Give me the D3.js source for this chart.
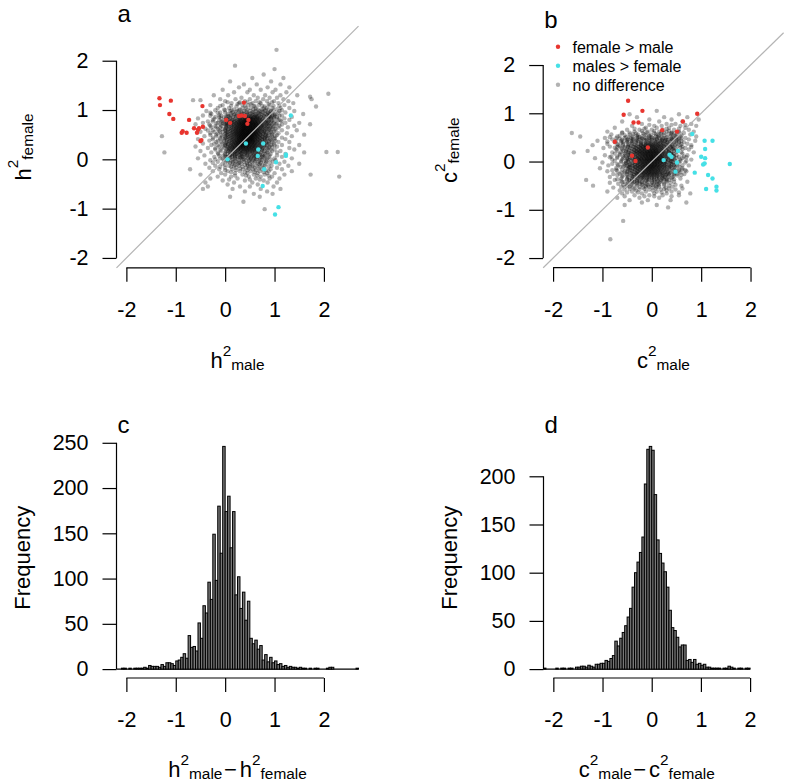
<!DOCTYPE html>
<html><head><meta charset="utf-8">
<script src="https://cdn.jsdelivr.net/npm/d3@7"></script>
<style>
html,body{margin:0;padding:0;background:#fff;}
svg{display:block;font-family:"Liberation Sans",Arial,Helvetica,sans-serif;}
</style></head><body>
<svg id="chart" width="787" height="784"></svg>
<script>
// ---------------- DATA ----------------
const axisTicks = [-2, -1, 0, 1, 2];
const histCTicksY = [0, 50, 100, 150, 200, 250];
const histDTicksY = [0, 50, 100, 150, 200];
const binStart = -2.2, binWidth = 0.05;
// panel c: counts of h2male - h2female, bins of 0.05 starting at -2.2
const histC = [0,0,1,1,0,1,0,1,1,1,1,2,1,4,3,3,3,2,5,3,7,7,6,4,9,10,13,17,12,37,24,25,20,51,34,70,62,96,77,149,98,180,128,246,174,191,134,174,82,102,67,85,54,75,34,28,32,22,26,10,16,8,13,7,9,5,6,3,4,2,3,2,2,1,2,1,1,0,1,0,1,1,0,0,0,1,2,2,0,0,0,0,0,0,0,0,0,1];
// panel d: counts of c2male - c2female, bins of 0.05 starting at -2.2
const histD = [1,0,0,0,0,1,0,1,1,0,1,1,0,2,2,3,3,2,4,3,2,5,5,6,6,9,8,11,14,29,24,32,38,45,54,63,85,100,111,121,137,192,228,231,227,181,134,120,110,101,85,61,43,40,33,23,25,25,9,10,7,10,5,6,4,5,2,2,1,1,1,1,0,1,1,3,2,1,0,1,1,0,1,1];

const redA = [[-1.33,1.24],[-1.32,1.10],[-1.10,1.19],[-1.13,0.92],[-1.05,0.82],[-0.73,0.80],[-0.46,1.08],[-0.86,0.57],[-0.88,0.54],[-0.78,0.54],[-0.63,0.63],[-0.55,0.60],[-0.57,0.54],[-0.53,0.63],[-0.45,0.66],[-0.48,0.39],[-0.50,0.37],[0.02,0.80],[0.10,0.74],[0.38,1.15],[0.33,0.89],[0.40,0.88],[0.47,0.80],[0.45,0.72],[0.28,0.88]];
const cyanA = [[1.33,0.89],[0.42,0.32],[0.67,0.20],[0.77,0.32],[0.66,0.07],[0.05,0.00],[1.23,0.07],[1.23,0.10],[1.03,-0.06],[0.79,-0.20],[0.76,-0.54],[1.08,-0.97],[1.01,-1.12]];
// grey points of panel a, as rows: [y, [x values]]
const grayRowsA = [
[2.22,[1.04]],[1.90,[0.20]],[1.83,[1.00]],[1.72,[0.78]],[1.65,[0.55,1.18]],[1.58,[0.10,0.93]],
[1.52,[0.38,0.64,1.12]],[1.46,[0.28,0.86,1.30]],[1.41,[-0.05,0.50,0.72,1.02]],[1.36,[0.18,0.45,0.96,1.24]],
[1.33,[2.09]],[1.30,[-0.23,0.06,0.58,0.81,1.12,1.46]],[1.27,[1.72]],[1.25,[0.33,0.66,0.90,1.05]],
[1.22,[-0.10,0.21,0.50,0.77,1.18,1.75]],[1.20,[-0.65,-0.50]],[1.18,[0.00,0.40,0.62,0.85,0.99,1.28]],
[1.16,[0.05,0.30,0.45,0.70,0.95]],
[1.14,[0.13,0.28,0.55,0.72,1.08,1.38]],[1.12,[0.25,0.52,0.88]],[1.10,[-0.30,-0.05,0.35,0.47,0.68,0.90,1.20]],
[1.085,[-0.10,0.12,0.40,0.58,0.75,0.98,1.10]],[1.07,[0.23,0.60,0.80,1.84]],
[1.04,[-0.15,0.08,0.42,0.52,0.84,0.96,1.12,1.30]],[1.03,[0.35,0.62,0.78]],[1.01,[-0.02,0.18,0.30,0.45,0.57,0.66,0.74,0.88,1.04]],
[0.995,[-0.20,0.00,0.13,0.28,0.82,0.98,1.15]],
[0.98,[-0.38,0.10,0.25,0.38,0.50,0.62,0.70,0.80,0.93,1.10,1.40]],[0.965,[0.22,0.42,0.58,0.74,0.92]],[0.95,[-0.10,0.15,0.33,0.44,0.55,0.67,0.77,0.86,1.22]],
[0.945,[-0.30,-0.15,0.00,0.95,1.08]],
[0.935,[0.12,0.34,0.51,0.68,0.87]],
[0.92,[-0.28,0.05,0.20,0.30,0.37,0.47,0.55,0.63,0.71,0.82,0.90,1.02,1.58]],
[0.905,[0.18,0.28,0.44,0.60,0.75,0.85,1.00]],
[0.89,[-0.45,-0.12,0.12,0.24,0.33,0.40,0.48,0.56,0.62,0.69,0.78,0.95,1.15]],
[0.885,[-0.30,-0.08,0.05,0.90,1.00,1.10]],
[0.875,[0.07,0.22,0.38,0.52,0.64,0.79,0.90]],
[0.86,[-0.20,0.02,0.16,0.27,0.35,0.42,0.49,0.55,0.60,0.66,0.73,0.83,0.92,1.05,1.35]],
[0.855,[-0.12,-0.02,0.10,0.88,0.98]],
[0.845,[0.30,0.40,0.46,0.52,0.58,0.64,0.70]],
[0.83,[-0.55,-0.08,0.10,0.21,0.30,0.37,0.44,0.50,0.56,0.63,0.70,0.77,0.87,0.98,1.20]],
[0.825,[-0.22,0.02,0.93,1.05]],
[0.815,[0.18,0.28,0.35,0.41,0.46,0.51,0.56,0.61,0.67,0.75]],
[0.80,[-0.25,0.05,0.15,0.25,0.32,0.38,0.43,0.48,0.53,0.58,0.64,0.71,0.80,0.89,1.08,1.30]],
[0.795,[-0.12,0.00,0.08,0.85,0.95,1.12]],
[0.785,[0.14,0.23,0.30,0.36,0.41,0.46,0.51,0.57,0.63,0.69,0.78]],
[0.77,[-0.35,-0.05,0.11,0.19,0.27,0.33,0.39,0.44,0.49,0.54,0.60,0.66,0.73,0.82,0.93,1.14]],
[0.765,[-0.25,-0.08,0.03,0.88,1.00]],
[0.755,[0.08,0.18,0.25,0.31,0.37,0.41,0.45,0.50,0.55,0.60,0.65,0.72,0.81]],
[0.74,[-0.45,-0.15,0.04,0.14,0.22,0.29,0.34,0.39,0.43,0.47,0.52,0.57,0.62,0.68,0.76,0.86,0.98,1.22,1.50]],
[0.735,[-0.18,-0.05,0.92,1.05]],
[0.725,[0.03,0.12,0.21,0.28,0.33,0.38,0.43,0.48,0.52,0.57,0.62,0.67,0.74,0.84]],
[0.71,[-0.60,-0.02,0.08,0.17,0.25,0.31,0.36,0.40,0.45,0.50,0.55,0.59,0.64,0.70,0.78,0.88,1.03,1.72]],
[0.705,[-0.32,-0.10,0.00,0.84,0.95,1.15]],
[0.695,[0.05,0.15,0.23,0.29,0.35,0.39,0.44,0.49,0.53,0.58,0.63,0.69,0.76]],
[0.68,[-0.30,-0.08,0.12,0.20,0.27,0.33,0.37,0.42,0.46,0.51,0.56,0.61,0.66,0.73,0.81,0.92,1.10,1.40]],
[0.675,[-0.20,0.02,0.88,1.00]],
[0.665,[0.08,0.18,0.25,0.31,0.36,0.41,0.45,0.50,0.55,0.60,0.65,0.71,0.79]],
[0.65,[-0.18,0.03,0.15,0.23,0.29,0.34,0.39,0.43,0.48,0.52,0.57,0.62,0.67,0.75,0.85,0.97,1.27]],
[0.645,[-0.28,-0.10,0.92,1.08]],
[0.635,[0.02,0.12,0.21,0.27,0.33,0.38,0.42,0.47,0.51,0.56,0.61,0.66,0.73,0.82]],
[0.62,[-0.40,-0.05,0.09,0.18,0.25,0.31,0.36,0.40,0.44,0.49,0.53,0.58,0.63,0.69,0.77,0.88,1.02]],
[0.615,[-0.15,0.00,0.85,0.95]],
[0.605,[0.06,0.15,0.22,0.29,0.34,0.38,0.43,0.47,0.52,0.56,0.61,0.67,0.75]],
[0.59,[-0.25,0.00,0.13,0.21,0.27,0.32,0.37,0.41,0.46,0.50,0.55,0.59,0.65,0.71,0.80,0.92,1.15,1.45]],
[0.585,[-0.35,-0.12,0.88,1.02]],
[0.575,[0.02,0.10,0.19,0.25,0.31,0.36,0.40,0.45,0.49,0.54,0.58,0.63,0.70,0.79]],
[0.56,[-0.50,-0.10,0.06,0.16,0.23,0.29,0.34,0.38,0.43,0.47,0.51,0.56,0.61,0.67,0.74,0.84,0.99]],
[0.555,[-0.22,-0.05,0.80,0.92]],
[0.545,[0.04,0.14,0.22,0.28,0.33,0.37,0.42,0.46,0.50,0.55,0.60,0.65,0.72]],
[0.53,[-0.30,0.01,0.12,0.20,0.26,0.31,0.35,0.40,0.44,0.48,0.53,0.57,0.62,0.68,0.77,0.89,1.08,1.25]],
[0.525,[-0.15,0.83,0.96]],
[0.515,[0.00,0.09,0.18,0.24,0.30,0.35,0.39,0.43,0.48,0.52,0.57,0.62,0.68,0.76]],
[0.50,[-0.18,0.05,0.15,0.22,0.28,0.33,0.37,0.41,0.45,0.50,0.54,0.59,0.64,0.71,0.81,0.95,1.60]],
[0.495,[-0.30,-0.08,0.88,1.05]],
[0.485,[0.03,0.12,0.20,0.27,0.32,0.36,0.41,0.45,0.49,0.54,0.59,0.65,0.72,0.82]],
[0.47,[-1.28,-0.42,-0.06,0.09,0.18,0.25,0.30,0.34,0.39,0.43,0.47,0.52,0.56,0.61,0.67,0.75,0.86,1.02,1.35]],
[0.465,[-0.18,0.00,0.82,0.95]],
[0.455,[0.06,0.15,0.23,0.28,0.33,0.38,0.42,0.47,0.51,0.55,0.61,0.67,0.75]],
[0.44,[-0.25,0.02,0.13,0.21,0.27,0.32,0.36,0.40,0.45,0.49,0.53,0.58,0.63,0.70,0.79,0.92,1.15]],
[0.435,[-0.10,0.86,1.00]],
[0.425,[0.00,0.10,0.18,0.25,0.30,0.35,0.39,0.43,0.48,0.53,0.57,0.64,0.71,0.80]],
[0.41,[-0.55,-0.10,0.07,0.16,0.23,0.29,0.34,0.38,0.42,0.46,0.51,0.55,0.60,0.66,0.74,0.85,1.00,1.22]],
[0.405,[-0.25,-0.02,0.80,0.92]],
[0.395,[0.04,0.14,0.22,0.28,0.32,0.37,0.41,0.46,0.50,0.55,0.60,0.67,0.75]],
[0.38,[-0.32,-0.02,0.11,0.19,0.25,0.30,0.35,0.39,0.44,0.48,0.52,0.57,0.63,0.70,0.80,0.94]],
[0.375,[-0.15,0.88,1.02]],
[0.365,[0.08,0.17,0.24,0.29,0.34,0.38,0.43,0.47,0.52,0.57,0.63,0.71]],
[0.35,[-0.18,0.04,0.14,0.21,0.27,0.32,0.36,0.41,0.45,0.50,0.55,0.60,0.67,0.76,0.88,1.08,1.30]],
[0.345,[-0.08,0.82,0.95]],
[0.335,[0.02,0.12,0.20,0.26,0.31,0.35,0.40,0.44,0.49,0.55,0.61,0.69,0.79]],
[0.32,[-0.45,-0.06,0.08,0.17,0.23,0.28,0.33,0.38,0.42,0.47,0.52,0.58,0.65,0.73,0.84,0.99]],
[0.315,[-0.22,0.00,0.88]],
[0.305,[0.06,0.15,0.22,0.27,0.32,0.37,0.42,0.47,0.53,0.59,0.66,0.75]],
[0.29,[-0.28,0.00,0.12,0.19,0.25,0.30,0.35,0.40,0.45,0.50,0.56,0.62,0.70,0.80,0.93,1.15,1.50]],
[0.285,[-0.15,0.85,1.00]],
[0.275,[0.01,0.10,0.17,0.24,0.30,0.35,0.39,0.44,0.50,0.57,0.64,0.73]],
[0.26,[-0.60,-0.12,0.05,0.14,0.21,0.27,0.32,0.37,0.42,0.48,0.54,0.60,0.68,0.78,0.90,1.05]],
[0.255,[-0.05,0.80,0.95]],
[0.245,[0.05,0.13,0.20,0.26,0.31,0.36,0.43,0.49,0.55,0.62,0.71]],
[0.23,[-0.35,-0.02,0.09,0.17,0.23,0.29,0.34,0.40,0.46,0.52,0.58,0.66,0.76,0.88,1.30]],
[0.225,[-0.20,0.84]],
[0.215,[0.07,0.15,0.21,0.27,0.36,0.42,0.48,0.55,0.62,0.70]],
[0.20,[-0.20,0.03,0.12,0.19,0.26,0.32,0.38,0.44,0.50,0.57,0.65,0.74,0.86,1.00,1.40]],
[0.195,[-0.10,0.75,0.92]],
[0.185,[0.09,0.17,0.25,0.33,0.40,0.47,0.54,0.62]],
[0.17,[-0.50,-0.08,0.06,0.15,0.22,0.29,0.36,0.43,0.50,0.58,0.68,0.80,0.95,1.12]],
[0.165,[0.02,0.63,0.78]],
[0.155,[0.11,0.20,0.30,0.39,0.46,0.55]],
[0.15,[2.05,2.28]],
[0.14,[-1.23,-0.28,0.00,0.10,0.18,0.26,0.34,0.42,0.50,0.60,0.72,0.86,1.05,1.60]],
[0.135,[-0.15,0.55,0.68,0.85]],
[0.125,[0.15,0.24,0.33,0.45]],
[0.11,[-0.14,0.05,0.14,0.23,0.32,0.41,0.52,0.63,0.76,0.92,1.22]],
[0.105,[0.00,0.20,0.36,0.66,0.82]],
[0.095,[0.10,0.28,0.45,0.58,0.70]],
[0.08,[-0.42,-0.04,0.09,0.19,0.29,0.39,0.50,0.62,0.75,0.90,1.05]],
[0.075,[-0.12,0.13,0.44,0.58,0.80]],
[0.065,[0.00,0.20,0.34,0.55,0.68]],
[0.05,[-0.22,0.02,0.14,0.25,0.36,0.48,0.60,0.73,0.88,1.15]],
[0.045,[0.04,0.20,0.32,0.65,0.77]],
[0.035,[0.10,0.30,0.41,0.52,0.80]],
[0.02,[-0.55,-0.10,0.07,0.20,0.33,0.46,0.58,0.71,0.85,1.00,1.35]],
[0.015,[-0.05,0.25,0.52,0.62]],
[0.00,[-0.20,0.16,0.38,0.64,0.92]],
[-0.015,[0.06,0.35,0.50,0.74]],
[-0.02,[-0.30,-0.02,0.13,0.28,0.42,0.56,0.70,0.84,1.02]],
[-0.035,[0.02,0.20,0.48,0.60,0.78]],
[-0.05,[-0.15,0.06,0.22,0.38,0.53,0.68,0.83,0.97,1.20]],
[-0.06,[0.15,0.30,0.60]],
[-0.07,[-0.25,0.10,0.28,0.44,0.72,0.90]],
[-0.09,[-0.40,-0.05,0.15,0.33,0.50,0.66,0.82,1.10,1.50]],
[-0.10,[0.25,0.45,0.70]],
[-0.11,[0.00,0.20,0.40,0.55,0.75]],
[-0.13,[-0.20,0.08,0.28,0.46,0.63,0.80,0.94,1.28]],
[-0.14,[0.18,0.55]],
[-0.15,[-0.10,0.12,0.35,0.50,0.70,0.88]],
[-0.17,[-0.32,0.00,0.22,0.42,0.60,0.78,1.05]],
[-0.185,[0.30,0.48,0.68]],
[-0.20,[-0.71,-0.12,0.14,0.36,0.56,0.75,0.92,1.15]],
[-0.22,[0.00,0.22,0.45,0.62,0.82]],
[-0.24,[-0.25,0.05,0.30,0.52,0.70,0.88,1.35]],
[-0.26,[0.12,0.40,0.60,0.78]],
[-0.28,[-0.08,0.20,0.45,0.66,0.85,1.00]],
[-0.31,[-0.50,0.00,0.35,0.58,0.80,1.20,1.73]],
[-0.33,[0.20,0.42,0.65,0.88]],
[-0.35,[-0.15,0.12,0.48,0.72,0.95,2.31]],
[-0.39,[-0.30,0.25,0.62,0.90,1.10]],
[-0.41,[0.08,0.50,0.70]],
[-0.43,[-0.05,0.40,0.78]],
[-0.47,[-0.40,0.18,0.55,0.86,1.05]],
[-0.51,[0.05,0.66]],
[-0.55,[-0.35,0.30,0.50,0.98]],
[-0.60,[-0.45,0.15,0.72,1.12]],
[-0.65,[0.40,0.85]],
[-0.70,[0.58,0.96]],
[-0.76,[0.10,0.70]],
[-0.86,[0.37]],
[-1.01,[0.80]]
];

const redB = [[-0.48,1.26],[-0.57,0.97],[-0.19,1.05],[-0.37,0.81],[-0.27,0.81],[-0.75,0.41],[0.21,0.65],[0.51,0.62],[0.63,0.83],[0.92,0.99],[-0.08,0.29],[-0.40,0.12],[-0.33,0.01]];
const cyanB = [[0.82,0.57],[1.07,0.43],[1.23,0.43],[1.08,0.26],[1.00,0.10],[1.08,0.07],[1.04,-0.06],[1.07,-0.04],[1.58,-0.05],[0.87,-0.23],[1.14,-0.28],[1.23,-0.35],[1.10,-0.57],[1.31,-0.52],[1.31,-0.60],[0.36,0.14],[0.40,0.10],[0.53,0.22],[0.24,0.03],[0.51,-0.02],[0.48,-0.21]];
// grey points of panel b, as rows: [y, [x values]]
const grayRowsB = [
[1.05,[0.10]],[0.98,[-0.45,0.55]],[0.92,[-0.30,0.25,0.72]],[0.87,[-0.05,0.40,0.95]],[0.83,[-0.60,0.15,0.62]],
[0.78,[-0.20,0.30,0.48,0.80]],[0.76,[-0.05,0.40,0.68]],[0.74,[-0.40,0.05,0.20,0.58,0.90]],[0.70,[-0.75,-0.12,0.10,0.35,0.68]],
[0.68,[-0.35,-0.15,0.30,0.55]],
[0.66,[-0.50,-0.25,0.00,0.22,0.45,0.75]],[0.635,[-0.20,0.05,0.35]],[0.62,[-0.90,-0.35,-0.08,0.15,0.30,0.55,0.85]],
[0.605,[-0.60,-0.10,0.20]],[0.60,[-0.45,0.40,0.55]],
[0.59,[-1.62,-0.60,-0.18,0.05,0.25,0.40,0.65]],[0.58,[-0.32,0.18,0.46]],[0.565,[-0.38,-0.15,0.08,0.40]],
[0.56,[-0.82,-0.45,-0.28,-0.02,0.12,0.33,0.50,0.78]],
[0.545,[-0.55,-0.12,0.25,0.60]],[0.535,[-0.65,-0.30,-0.05,0.15,0.48]],
[0.52,[-1.45,-0.70,-0.38,-0.20,-0.05,0.08,0.20,0.38,0.58,0.90]],[0.51,[-0.52,-0.25,0.12,0.42]],[0.505,[-0.85,-0.45,-0.28,0.00,0.30,0.50]],
[0.49,[-0.95,-0.55,-0.30,-0.12,0.02,0.15,0.28,0.45,0.68]],[0.485,[-0.72,-0.42,-0.20,-0.05,0.22,0.55]],[0.475,[-0.65,-0.38,-0.18,0.10,0.40,0.60]],
[0.46,[-0.80,-0.48,-0.25,-0.10,0.00,0.10,0.22,0.35,0.52,0.75]],[0.455,[-0.60,-0.38,-0.15,0.05,0.28,0.42]],[0.445,[-0.50,-0.30,-0.05,0.20,0.32,0.50]],
[0.43,[-1.10,-0.62,-0.40,-0.22,-0.12,-0.03,0.06,0.16,0.27,0.40,0.60,0.88]],[0.425,[-0.72,-0.50,-0.32,0.20,0.48]],[0.415,[-0.90,-0.58,-0.42,-0.28,0.12,0.26,0.38,0.55]],
[0.40,[-0.75,-0.50,-0.32,-0.20,-0.10,-0.01,0.08,0.18,0.30,0.45,0.65]],[0.395,[-0.62,-0.40,0.32,0.55]],
[0.385,[-0.22,-0.12,-0.04,0.04,0.12,0.22]],
[0.37,[-0.90,-0.58,-0.40,-0.27,-0.17,-0.08,0.00,0.08,0.16,0.25,0.36,0.50,0.72]],[0.365,[-0.70,-0.48,0.42,0.60]],
[0.355,[-0.35,-0.22,-0.12,-0.04,0.04,0.13,0.22,0.32]],[0.345,[-0.58,0.48]],
[0.34,[-1.20,-0.68,-0.47,-0.33,-0.22,-0.13,-0.05,0.03,0.11,0.19,0.29,0.41,0.58,0.80]],
[0.325,[-0.42,-0.30,-0.21,-0.14,-0.07,0.00,0.07,0.15,0.24,0.36]],[0.315,[-0.65,-0.48,0.52]],
[0.31,[-0.85,-0.55,-0.38,-0.27,-0.18,-0.10,-0.03,0.04,0.12,0.20,0.30,0.43,0.62]],
[0.30,[-0.70,0.80]],
[0.295,[-0.48,-0.35,-0.25,-0.18,-0.12,-0.05,0.02,0.09,0.17,0.26,0.38]],[0.285,[-0.75,-0.55,0.38,0.58]],
[0.28,[-0.98,-0.62,-0.44,-0.32,-0.23,-0.15,-0.08,-0.01,0.06,0.13,0.21,0.31,0.45,0.68]],
[0.265,[-0.40,-0.31,-0.23,-0.16,-0.09,-0.02,0.05,0.11,0.19,0.28,0.42]],[0.255,[-0.60,0.42,0.62]],
[0.25,[-0.72,-0.50,-0.36,-0.27,-0.19,-0.12,-0.05,0.02,0.08,0.15,0.23,0.34,0.49,0.75]],
[0.235,[-0.46,-0.35,-0.27,-0.20,-0.13,-0.06,0.00,0.06,0.12,0.20,0.30]],[0.225,[-0.70,-0.52,0.45]],
[0.22,[-1.30,-0.58,-0.42,-0.31,-0.23,-0.16,-0.09,-0.03,0.03,0.09,0.16,0.24,0.35,0.52]],
[0.205,[-0.52,-0.39,-0.31,-0.24,-0.17,-0.10,-0.04,0.02,0.08,0.14,0.23,0.34]],[0.195,[-0.62,0.34,0.50]],
[0.19,[-1.58,-0.80,-0.48,-0.35,-0.27,-0.20,-0.13,-0.07,-0.01,0.05,0.11,0.18,0.27,0.40,0.60,0.85]],
[0.175,[-0.45,-0.35,-0.27,-0.20,-0.13,-0.07,-0.01,0.05,0.11,0.18,0.26,0.38]],[0.165,[-0.75,-0.55,0.38,0.62]],
[0.16,[-0.65,-0.42,-0.31,-0.23,-0.16,-0.10,-0.04,0.02,0.08,0.14,0.21,0.30,0.44]],
[0.145,[-0.48,-0.34,-0.25,-0.18,-0.12,-0.06,0.00,0.06,0.12,0.19,0.27,0.40]],[0.135,[-0.65,-0.46,0.42]],
[0.13,[-0.95,-0.55,-0.38,-0.28,-0.20,-0.14,-0.08,-0.02,0.03,0.09,0.15,0.22,0.32,0.50,0.72]],
[0.115,[-0.52,-0.39,-0.29,-0.21,-0.14,-0.08,-0.02,0.03,0.09,0.15,0.22,0.31,0.45]],[0.105,[-0.82,-0.58,0.45,0.65]],
[0.10,[-0.70,-0.45,-0.33,-0.25,-0.18,-0.11,-0.05,0.00,0.06,0.12,0.18,0.26,0.36,0.55]],
[0.09,[-0.85,0.70]],
[0.085,[-0.44,-0.34,-0.26,-0.19,-0.12,-0.06,0.00,0.05,0.11,0.17,0.24,0.34]],[0.075,[-0.70,-0.50,0.50]],
[0.07,[-1.15,-0.58,-0.40,-0.30,-0.22,-0.15,-0.09,-0.03,0.02,0.08,0.14,0.20,0.28,0.40,0.62]],
[0.055,[-0.50,-0.38,-0.29,-0.22,-0.15,-0.09,-0.03,0.03,0.08,0.14,0.21,0.30,0.42]],[0.045,[-0.60,0.40,0.58]],
[0.04,[-0.80,-0.48,-0.35,-0.26,-0.19,-0.12,-0.06,0.00,0.05,0.11,0.17,0.24,0.33,0.46,0.80]],
[0.025,[-0.45,-0.35,-0.27,-0.20,-0.13,-0.07,-0.01,0.04,0.10,0.16,0.23,0.33]],[0.015,[-0.75,-0.52,0.47,0.70]],
[0.01,[-0.62,-0.42,-0.31,-0.23,-0.16,-0.10,-0.04,0.01,0.07,0.13,0.19,0.27,0.38,0.58]],
[-0.005,[-0.48,-0.34,-0.25,-0.18,-0.11,-0.05,0.01,0.07,0.13,0.20,0.28,0.40]],[-0.015,[-0.62,0.38,0.55]],
[-0.02,[-1.00,-0.52,-0.37,-0.28,-0.20,-0.14,-0.08,-0.02,0.04,0.10,0.16,0.23,0.31,0.44,0.68]],
[-0.035,[-0.52,-0.40,-0.30,-0.22,-0.15,-0.08,-0.02,0.04,0.10,0.17,0.25,0.36]],[-0.045,[-0.80,-0.55,0.50]],
[-0.05,[-0.70,-0.45,-0.33,-0.24,-0.17,-0.11,-0.05,0.01,0.07,0.13,0.20,0.28,0.40]],
[-0.065,[-0.44,-0.35,-0.27,-0.19,-0.12,-0.05,0.01,0.07,0.13,0.21,0.30,0.45]],[-0.075,[-0.68,-0.48,0.44,0.62]],
[-0.08,[-0.88,-0.56,-0.40,-0.29,-0.21,-0.14,-0.08,-0.02,0.04,0.10,0.17,0.25,0.35,0.52,0.75]],
[-0.095,[-0.50,-0.38,-0.29,-0.21,-0.14,-0.08,-0.02,0.04,0.11,0.18,0.27,0.38]],[-0.105,[-0.58,0.38,0.56]],
[-0.11,[-0.64,-0.46,-0.34,-0.25,-0.18,-0.11,-0.05,0.01,0.07,0.14,0.22,0.31,0.46]],
[-0.125,[-0.43,-0.33,-0.25,-0.17,-0.10,-0.04,0.02,0.08,0.15,0.24,0.35]],[-0.135,[-0.72,-0.45,0.48]],
[-0.14,[-1.05,-0.52,-0.38,-0.29,-0.21,-0.14,-0.08,-0.02,0.04,0.11,0.18,0.27,0.40,0.62]],
[-0.155,[-0.48,-0.35,-0.27,-0.19,-0.12,-0.06,0.00,0.06,0.13,0.21,0.31]],[-0.165,[-0.60,0.45,0.62]],
[-0.17,[-0.72,-0.44,-0.33,-0.24,-0.17,-0.10,-0.04,0.02,0.09,0.16,0.25,0.36,0.55]],
[-0.18,[-0.80,0.68]],
[-0.185,[-0.40,-0.30,-0.22,-0.15,-0.08,-0.02,0.05,0.12,0.19,0.29,0.42]],[-0.195,[-0.70,-0.48,0.55]],
[-0.20,[-0.90,-0.55,-0.40,-0.29,-0.20,-0.13,-0.06,0.00,0.07,0.14,0.23,0.33,0.48,0.70]],
[-0.215,[-0.50,-0.37,-0.27,-0.19,-0.12,-0.05,0.02,0.09,0.17,0.27]],[-0.225,[-0.55,0.38,0.58]],
[-0.23,[-0.62,-0.45,-0.33,-0.24,-0.16,-0.09,-0.02,0.05,0.12,0.21,0.32,0.46]],
[-0.245,[-0.42,-0.31,-0.22,-0.14,-0.07,0.00,0.07,0.15,0.24,0.37]],[-0.255,[-0.65,-0.30,0.35,0.52]],
[-0.26,[-0.78,-0.50,-0.37,-0.27,-0.18,-0.10,-0.03,0.04,0.11,0.20,0.30,0.45,0.66]],
[-0.275,[-0.35,-0.25,-0.16,-0.08,0.00,0.08,0.17,0.28]],
[-0.28,[-0.70,0.60]],[-0.285,[-0.50,0.28,0.45]],
[-0.29,[-0.58,-0.42,-0.30,-0.20,-0.12,-0.04,0.04,0.12,0.22,0.35,0.52]],
[-0.305,[-0.40,-0.27,-0.17,-0.08,0.01,0.10,0.20]],[-0.315,[-0.60,-0.38,0.33]],
[-0.32,[-0.85,-0.48,-0.34,-0.23,-0.14,-0.05,0.04,0.14,0.26,0.42]],
[-0.335,[-0.30,-0.19,-0.10,0.00,0.10,0.22]],[-0.345,[-0.50,-0.22,0.22,0.40]],
[-0.35,[-0.62,-0.40,-0.27,-0.16,-0.06,0.04,0.15,0.30,0.58]],
[-0.365,[-0.70,-0.50,-0.35,0.10,0.25,0.45]],[-0.375,[-0.40,-0.10,0.00,0.30]],
[-0.38,[-1.33,-0.75,-0.46,-0.30,-0.18,-0.07,0.05,0.18,0.36]],
[-0.40,[-0.62,-0.40,-0.25,-0.12,0.12,0.30]],[-0.41,[-0.45,-0.30,0.00,0.18]],
[-0.42,[-0.55,-0.35,-0.20,-0.08,0.06,0.22,0.45,0.72]],[-0.43,[-0.60,-0.38,-0.25,0.10,0.30]],
[-0.44,[-0.85,-0.48,-0.30,-0.15,0.00,0.15,0.38]],
[-0.46,[-0.68,-0.40,-0.24,-0.10,0.05,0.25]],[-0.47,[-0.50,-0.32,-0.18,0.12]],
[-0.48,[-0.58,-0.20,-0.02,0.15,0.48]],[-0.49,[-0.42,-0.08,0.02,0.25]],
[-0.50,[-1.19,-0.50,-0.30,-0.12,0.08,0.35,0.60]],
[-0.52,[-0.62,-0.45,-0.05,0.15,0.42]],[-0.53,[-0.55,-0.25,-0.12,0.10]],
[-0.54,[-0.78,-0.38,-0.18,0.02,0.28]],
[-0.56,[-0.35,0.08,0.35,0.62]],[-0.57,[-0.45,-0.15,0.25]],
[-0.58,[-0.55,-0.25,-0.05,0.18,0.48]],[-0.60,[-0.65,-0.32,0.02,0.30]],
[-0.62,[-0.90,-0.40,-0.12,0.10,0.40]],
[-0.64,[-0.50,-0.28,0.20,0.55]],
[-0.66,[-0.60,-0.20,0.05,0.30,0.78]],
[-0.70,[-0.35,-0.05,0.22,0.55]],
[-0.72,[-0.55,-0.15,0.05,0.40]],
[-0.75,[-0.70,-0.25,0.15]],
[-0.80,[-0.45,-0.08,0.38]],
[-0.85,[-0.20,0.70]],
[-0.90,[-0.55,0.10]],
[-0.95,[0.33]],
[-1.23,[-0.58]],
[-1.61,[-0.84]]
];
const legendLabels = ["female > male", "males > female", "no difference"];
const panelLetters = ["a", "b", "c", "d"];

// ---------------- DRAWING ----------------
const svg = d3.select("#chart");
const TICKF = 21.5, LBLF = 22, LETF = 24;
const RED = "#e8352f", CYAN = "#45e0e6", GREY = "#000", GREY_OP = 0.3, PR = 2.2;

function mathText(sel, parts, size) {
  let cur = 0;
  parts.forEach(([t, type, dx]) => {
    const target = type === 1 ? -0.55 * size : type === 2 ? 0.1 * size : 0;
    const ts = sel.append("tspan").text(t)
      .attr("dy", (target - cur).toFixed(2))
      .attr("font-size", type ? 0.7 * size : size);
    if (dx) ts.attr("dx", dx);
    cur = target;
  });
}

function styleAxis(g) {
  g.selectAll(".tick line").attr("stroke", "#000").attr("stroke-width", 1.2);
  g.selectAll(".tick text").attr("fill", "#000").attr("font-size", TICKF)
    .attr("font-family", '"Liberation Sans", Arial, sans-serif');
  g.select(".domain").remove();
}

function drawAxes(g, x, y, xTicks, yTicks, plotBottom, plotLeft) {
  const gx = g.append("g").attr("transform", `translate(0,${plotBottom})`)
    .call(d3.axisBottom(x).tickValues(xTicks).tickSize(14).tickSizeOuter(0).tickPadding(20).tickFormat(d3.format("d")));
  styleAxis(gx);
  gx.selectAll(".tick text").text(d => d < 0 ? "-" + Math.abs(d) : d);
  gx.append("line").attr("x1", x(xTicks[0])).attr("x2", x(xTicks[xTicks.length - 1]))
    .attr("stroke", "#000").attr("stroke-width", 1.2);
  const gy = g.append("g").attr("transform", `translate(${plotLeft},0)`)
    .call(d3.axisLeft(y).tickValues(yTicks).tickSize(14).tickSizeOuter(0).tickPadding(14).tickFormat(d3.format("d")));
  styleAxis(gy);
  gy.selectAll(".tick text").text(d => d < 0 ? "-" + Math.abs(d) : d);
  gy.append("line").attr("y1", y(yTicks[0])).attr("y2", y(yTicks[yTicks.length - 1]))
    .attr("stroke", "#000").attr("stroke-width", 1.2);
}

function scatterPanel(o) {
  const g = svg.append("g");
  const x = d3.scaleLinear().domain(o.dom).range([o.left, o.right]);
  const y = d3.scaleLinear().domain(o.dom).range([o.bottom, o.top]);
  const grey = o.rows.flatMap(([yy, xs]) => xs.map(xx => [xx, yy]));
  g.append("g").selectAll("circle").data(grey).join("circle")
    .attr("cx", d => x(d[0])).attr("cy", d => y(d[1])).attr("r", PR)
    .attr("fill", GREY).attr("fill-opacity", GREY_OP);
  g.append("line").attr("x1", x(o.dom[0])).attr("y1", y(o.dom[0]))
    .attr("x2", x(o.dom[1])).attr("y2", y(o.dom[1]))
    .attr("stroke", "#b4b4b4").attr("stroke-width", 1.2);
  g.append("g").selectAll("circle").data(o.red).join("circle")
    .attr("cx", d => x(d[0])).attr("cy", d => y(d[1])).attr("r", PR).attr("fill", RED);
  g.append("g").selectAll("circle").data(o.cyan).join("circle")
    .attr("cx", d => x(d[0])).attr("cy", d => y(d[1])).attr("r", PR).attr("fill", CYAN);
  drawAxes(g, x, y, axisTicks, axisTicks, o.bottom, o.left);
  const xl = g.append("text").attr("x", (o.left + o.right) / 2).attr("y", o.bottom + 100)
    .attr("text-anchor", "middle").attr("font-size", LBLF).attr("fill", "#000");
  mathText(xl, o.xlab, LBLF);
  const yl = g.append("text")
    .attr("transform", `translate(${o.left - 86},${(o.top + o.bottom) / 2}) rotate(-90)`)
    .attr("text-anchor", "middle").attr("font-size", LBLF).attr("fill", "#000");
  mathText(yl, o.ylab, LBLF);
  g.append("text").attr("x", o.left + 1).attr("y", o.top - 4.5).attr("font-size", LETF).text(o.letter);
  if (o.legend) {
    const cols = [[RED, 1], [CYAN, 1], [GREY, GREY_OP]];
    const lg = g.append("g").attr("transform", `translate(${o.left + 14.8},${o.top + 14})`);
    const items = lg.selectAll("g").data(legendLabels).join("g")
      .attr("transform", (d, i) => `translate(0,${i * 19})`);
    items.append("circle").attr("r", PR).attr("fill", (d, i) => cols[i][0]).attr("fill-opacity", (d, i) => cols[i][1]);
    items.append("text").attr("x", 14.5).attr("y", 5.8).attr("font-size", 16).text(d => d);
  }
}

function histPanel(o) {
  const g = svg.append("g");
  const x = d3.scaleLinear().domain(o.dom).range([o.left, o.right]);
  const maxC = d3.max(o.counts);
  const y = d3.scaleLinear().domain([-0.04 * maxC, 1.04 * maxC]).range([o.bottom, o.top]);
  const bins = o.counts.map((c, i) => ({ x0: binStart + i * binWidth, x1: binStart + (i + 1) * binWidth, c }));
  g.append("line").attr("x1", x(bins[0].x0)).attr("x2", x(bins[bins.length - 1].x1))
    .attr("y1", y(0)).attr("y2", y(0)).attr("stroke", "#000").attr("stroke-width", 1.1);
  g.append("g").selectAll("rect").data(bins.filter(b => b.c > 0)).join("rect")
    .attr("x", b => x(b.x0)).attr("width", b => x(b.x1) - x(b.x0))
    .attr("y", b => y(b.c)).attr("height", b => y(0) - y(b.c))
    .attr("fill", "#777").attr("stroke", "#000").attr("stroke-width", 1);
  drawAxes(g, x, y, axisTicks, o.yTicks, o.bottom, o.left);
  const xl = g.append("text").attr("x", (o.left + o.right) / 2).attr("y", o.bottom + 99)
    .attr("text-anchor", "middle").attr("font-size", LBLF).attr("fill", "#000");
  mathText(xl, o.xlab, LBLF);
  g.append("text")
    .attr("transform", `translate(${o.left - 87},${(o.top + o.bottom) / 2}) rotate(-90)`)
    .attr("text-anchor", "middle").attr("font-size", LBLF).attr("fill", "#000").text("Frequency");
  g.append("text").attr("x", o.left + 1).attr("y", o.top - 5).attr("font-size", LETF).text(o.letter);
}

scatterPanel({ left: 116.5, right: 358.5, top: 26.2, bottom: 267.8, dom: [-2.2, 2.7],
  rows: grayRowsA, red: redA, cyan: cyanA, letter: panelLetters[0],
  xlab: [["h", 0], ["2", 1], ["male", 2]], ylab: [["h", 0], ["2", 1], ["female", 2]] });
scatterPanel({ left: 543.2, right: 783.6, top: 32.7, bottom: 267.7, dom: [-2.2, 2.67],
  rows: grayRowsB, red: redB, cyan: cyanB, letter: panelLetters[1], legend: true,
  xlab: [["c", 0], ["2", 1], ["male", 2]], ylab: [["c", 0], ["2", 1], ["female", 2]] });
histPanel({ left: 116.5, right: 358.5, top: 437.5, bottom: 678, dom: [-2.2, 2.7],
  counts: histC, yTicks: histCTicksY, letter: panelLetters[2],
  xlab: [["h", 0], ["2", 1], ["male", 2], ["\u2212", 0, 1.5], ["h", 0, 3], ["2", 1], ["female", 2]] });
histPanel({ left: 543.5, right: 750.1, top: 437.5, bottom: 678, dom: [-2.2, 2.0],
  counts: histD, yTicks: histDTicksY, letter: panelLetters[3],
  xlab: [["c", 0], ["2", 1], ["male", 2], ["\u2212", 0, 1.5], ["c", 0, 3], ["2", 1], ["female", 2]] });
</script>
</body></html>
